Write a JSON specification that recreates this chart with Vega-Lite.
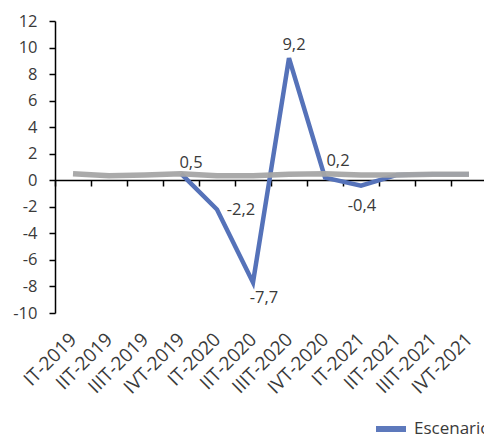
{
  "$schema": "https://vega.github.io/schema/vega-lite/v6.json",
  "width": 432,
  "height": 292,
  "autosize": {"type": "none"},
  "padding": {"left": 55, "top": 21, "right": 0, "bottom": 126},
  "background": "white",
  "config": {
    "view": {"stroke": null},
    "locale": {"number": {"decimal": ",", "thousands": ".", "grouping": [3], "currency": ["", " €"], "minus": "-"}},
    "font": "Open Sans",
    "axis": {"labelFont": "Open Sans", "labelFontSize": 16.5, "labelColor": "#3a3a3a", "domainColor": "#000000", "tickColor": "#000000", "grid": false, "title": null}
  },
  "data": {
    "values": [
      {"q": "IT-2019", "serie": "Escenario 2", "v": 0.5},
      {"q": "IIT-2019", "serie": "Escenario 2", "v": 0.35},
      {"q": "IIIT-2019", "serie": "Escenario 2", "v": 0.4},
      {"q": "IVT-2019", "serie": "Escenario 2", "v": 0.5},
      {"q": "IT-2020", "serie": "Escenario 2", "v": 0.35},
      {"q": "IIT-2020", "serie": "Escenario 2", "v": 0.35},
      {"q": "IIIT-2020", "serie": "Escenario 2", "v": 0.45},
      {"q": "IVT-2020", "serie": "Escenario 2", "v": 0.5},
      {"q": "IT-2021", "serie": "Escenario 2", "v": 0.4},
      {"q": "IIT-2021", "serie": "Escenario 2", "v": 0.4},
      {"q": "IIIT-2021", "serie": "Escenario 2", "v": 0.45},
      {"q": "IVT-2021", "serie": "Escenario 2", "v": 0.45},
      {"q": "IVT-2019", "serie": "Escenario base", "v": 0.5},
      {"q": "IT-2020", "serie": "Escenario base", "v": -2.2},
      {"q": "IIT-2020", "serie": "Escenario base", "v": -7.7},
      {"q": "IIIT-2020", "serie": "Escenario base", "v": 9.2},
      {"q": "IVT-2020", "serie": "Escenario base", "v": 0.2},
      {"q": "IT-2021", "serie": "Escenario base", "v": -0.4},
      {"q": "IIT-2021", "serie": "Escenario base", "v": 0.4},
      {"q": "IIIT-2021", "serie": "Escenario base", "v": 0.45},
      {"q": "IVT-2021", "serie": "Escenario base", "v": 0.45}
    ]
  },
  "encoding": {
    "x": {
      "field": "q", "type": "nominal",
      "scale": {"type": "band", "paddingInner": 0, "paddingOuter": 0,
        "domain": ["IT-2019","IIT-2019","IIIT-2019","IVT-2019","IT-2020","IIT-2020","IIIT-2020","IVT-2020","IT-2021","IIT-2021","IIIT-2021","IVT-2021"]},
      "axis": {"offset": -133, "tickBand": "extent", "tickSize": 6, "domainWidth": 1.5, "tickWidth": 1.5, "labelAngle": -45, "labelPadding": 150, "labelAlign": "right", "labelBaseline": "middle", "labelFontSize": 19}
    },
    "y": {
      "field": "v", "type": "quantitative",
      "scale": {"domain": [-10, 12], "nice": false, "zero": false},
      "axis": {"values": [-10,-8,-6,-4,-2,0,2,4,6,8,10,12], "tickSize": 6, "labelPadding": 12, "domainWidth": 1.5, "tickWidth": 1.5}
    }
  },
  "layer": [
    {
      "transform": [{"filter": "datum.serie === 'Escenario base'"}],
      "mark": {"type": "line", "strokeWidth": 4.5},
      "encoding": {
        "color": {"field": "serie", "type": "nominal",
          "scale": {"domain": ["Escenario base", "Escenario 2"], "range": ["#5572B9", "#A5A5A5"]},
          "legend": {"values": ["Escenario base"], "title": null, "orient": "none", "legendX": 318, "legendY": 390, "symbolType": "stroke", "symbolStrokeWidth": 6, "symbolSize": 900, "labelFontSize": 17, "labelFont": "Open Sans", "labelColor": "#3a3a3a", "labelOffset": 5}
        }
      }
    },
    {
      "transform": [{"filter": "datum.serie === 'Escenario 2'"}],
      "mark": {"type": "line", "strokeWidth": 5.5, "opacity": 0.95},
      "encoding": {"color": {"field": "serie", "type": "nominal"}}
    },
    {
      "transform": [{"filter": "datum.serie === 'Escenario base' && datum.q === 'IVT-2019'"}],
      "mark": {"type": "text", "dx": 10, "dy": -6, "baseline": "alphabetic", "fontSize": 16.5, "color": "#3a3a3a"},
      "encoding": {"text": {"field": "v", "type": "quantitative", "format": ".1f"}}
    },
    {
      "transform": [{"filter": "datum.serie === 'Escenario base' && datum.q === 'IIIT-2020'"}],
      "mark": {"type": "text", "dx": 5, "dy": -8, "baseline": "alphabetic", "fontSize": 16.5, "color": "#3a3a3a"},
      "encoding": {"text": {"field": "v", "type": "quantitative", "format": ".1f"}}
    },
    {
      "transform": [{"filter": "datum.serie === 'Escenario base' && datum.q === 'IVT-2020'"}],
      "mark": {"type": "text", "dx": 13, "dy": -12, "baseline": "alphabetic", "fontSize": 16.5, "color": "#3a3a3a"},
      "encoding": {"text": {"field": "v", "type": "quantitative", "format": ".1f"}}
    },
    {
      "transform": [{"filter": "datum.serie === 'Escenario base' && datum.q === 'IT-2020'"}],
      "mark": {"type": "text", "dx": 24, "dy": 6, "baseline": "alphabetic", "fontSize": 16.5, "color": "#3a3a3a"},
      "encoding": {"text": {"field": "v", "type": "quantitative", "format": ".1f"}}
    },
    {
      "transform": [{"filter": "datum.serie === 'Escenario base' && datum.q === 'IIT-2020'"}],
      "mark": {"type": "text", "dx": 11, "dy": 21, "baseline": "alphabetic", "fontSize": 16.5, "color": "#3a3a3a"},
      "encoding": {"text": {"field": "v", "type": "quantitative", "format": ".1f"}}
    },
    {
      "transform": [{"filter": "datum.serie === 'Escenario base' && datum.q === 'IT-2021'"}],
      "mark": {"type": "text", "dx": 1, "dy": 25, "baseline": "alphabetic", "fontSize": 16.5, "color": "#3a3a3a"},
      "encoding": {"text": {"field": "v", "type": "quantitative", "format": ".1f"}}
    }
  ]
}
